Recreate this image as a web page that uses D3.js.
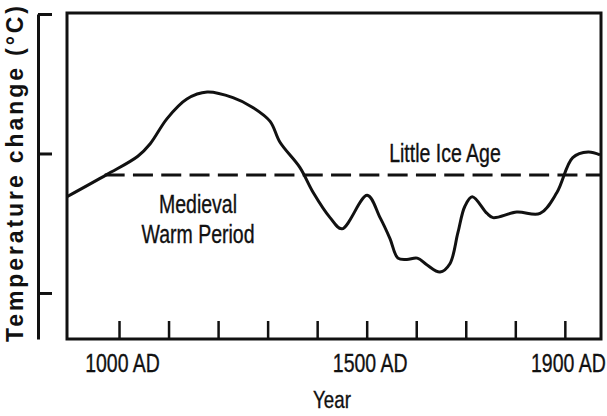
<!DOCTYPE html>
<html>
<head>
<meta charset="utf-8">
<script src="https://cdn.jsdelivr.net/npm/d3@7"></script>
<style>
  body { margin: 0; background: #fff; }
  svg { display: block; }
  .lbl { font-family: 'Liberation Sans', Arial, sans-serif; fill: #111; stroke: #111; stroke-width: 0.35px; }
</style>
</head>
<body>
<svg id="chart" width="607" height="416"></svg>
<script>
// reconstructed temperature curve (year, relative change)
var years = [895, 976, 1038, 1063, 1097, 1137, 1178, 1230, 1270, 1305, 1325, 1365, 1392, 1426,
             1450, 1501, 1527, 1547, 1563, 1581, 1602, 1622, 1648, 1668, 1684, 1698, 1713, 1743,
             1755, 1803, 1850, 1884, 1916, 1947, 1971];
var temps = [-0.31, -0.15, -0.02, 0.07, 0.25, 0.39, 0.44, 0.40, 0.33, 0.23, 0.08, -0.10, -0.28, -0.46,
             -0.54, -0.30, -0.46, -0.61, -0.75, -0.76, -0.75, -0.80, -0.85, -0.79, -0.57, -0.38, -0.31, -0.43,
             -0.46, -0.42, -0.43, -0.28, -0.03, 0.01, -0.01];
var refLevel = -0.155;          // dashed reference line
var refStart = 971;
var tickYears = [1000, 1100, 1200, 1300, 1400, 1500, 1600, 1700, 1800, 1900];
var tickLabels = {1000: '1000 AD', 1500: '1500 AD', 1900: '1900 AD'};
var yTicks = [-1, 0, 1];

var svg = d3.select('#chart');
var frame = {l: 67, r: 601, t: 13, b: 339};
var squeeze = 0.78;   // condensed look of the original lettering

var x = d3.scaleLinear().domain([895, 1973]).range([frame.l, frame.r]);
var y = d3.scaleLinear().domain([-1.33, 1.0]).range([frame.b, 14]);

svg.append('clipPath').attr('id', 'clip')
    .append('rect')
    .attr('x', frame.l).attr('y', frame.t)
    .attr('width', frame.r - frame.l).attr('height', frame.b - frame.t);

// dashed line
svg.append('line')
    .attr('x1', x(refStart)).attr('x2', frame.r)
    .attr('y1', y(refLevel)).attr('y2', y(refLevel))
    .attr('stroke', '#111')
    .attr('stroke-width', 3)
    .attr('stroke-dasharray', '20,8.3');

// curve
var pts = years.map(function(d, i){ return [d, temps[i]]; });
var line = d3.line()
    .x(function(d){ return x(d[0]); })
    .y(function(d){ return y(d[1]); })
    .curve(d3.curveCatmullRom.alpha(0.5));

svg.append('path')
    .datum(pts)
    .attr('clip-path', 'url(#clip)')
    .attr('d', line)
    .attr('fill', 'none')
    .attr('stroke', '#111')
    .attr('stroke-width', 3)
    .attr('stroke-linejoin', 'round');

// frame
svg.append('rect')
    .attr('x', frame.l).attr('y', frame.t)
    .attr('width', frame.r - frame.l).attr('height', frame.b - frame.t)
    .attr('fill', 'none')
    .attr('stroke', '#111')
    .attr('stroke-width', 3);

// bottom ticks pointing inward
var xAxis = d3.axisBottom(x)
    .tickValues(tickYears)
    .tickSizeInner(-18)
    .tickSizeOuter(0)
    .tickFormat(function(d){ return tickLabels[d] || ''; });

var xg = svg.append('g')
    .attr('transform', 'translate(0,' + frame.b + ')')
    .call(xAxis);
xg.select('.domain').remove();
xg.selectAll('.tick line').attr('stroke', '#111').attr('stroke-width', 2.5);
xg.selectAll('.tick text')
    .attr('class', 'lbl')
    .attr('x', 0).attr('y', 0).attr('dy', 0)
    .attr('transform', 'translate(3,33) scale(' + squeeze + ',1)')
    .style('font-size', '25px');

// separate y axis on the left
var yAxis = d3.axisRight(y)
    .tickValues(yTicks)
    .tickSize(14)
    .tickSizeOuter(0)
    .tickFormat('');
var yg = svg.append('g')
    .attr('transform', 'translate(38,0)')
    .call(yAxis);
yg.select('.domain').attr('stroke', '#111').attr('stroke-width', 3);
yg.selectAll('.tick line').attr('stroke', '#111').attr('stroke-width', 3);

// condensed centred label
function label(tx, ty, txt, size) {
    svg.append('text').attr('class', 'lbl')
        .attr('transform', 'translate(' + tx + ',' + ty + ') scale(' + squeeze + ',1)')
        .attr('text-anchor', 'middle')
        .style('font-size', size + 'px')
        .text(txt);
}

label(332, 408, 'Year', 24);
label(198, 213, 'Medieval', 25);
label(198, 243, 'Warm Period', 25);
label(445, 162, 'Little Ice Age', 25);

svg.append('text')
    .attr('transform', 'translate(23,174) rotate(-90)')
    .attr('text-anchor', 'middle')
    .attr('textLength', 336)
    .attr('lengthAdjust', 'spacing')
    .style('font-family', 'Liberation Sans, Arial, sans-serif')
    .style('font-size', '23px')
    .style('font-weight', 'bold')
    .style('fill', '#111')
    .text('Temperature change (°C)');
</script>
</body>
</html>
